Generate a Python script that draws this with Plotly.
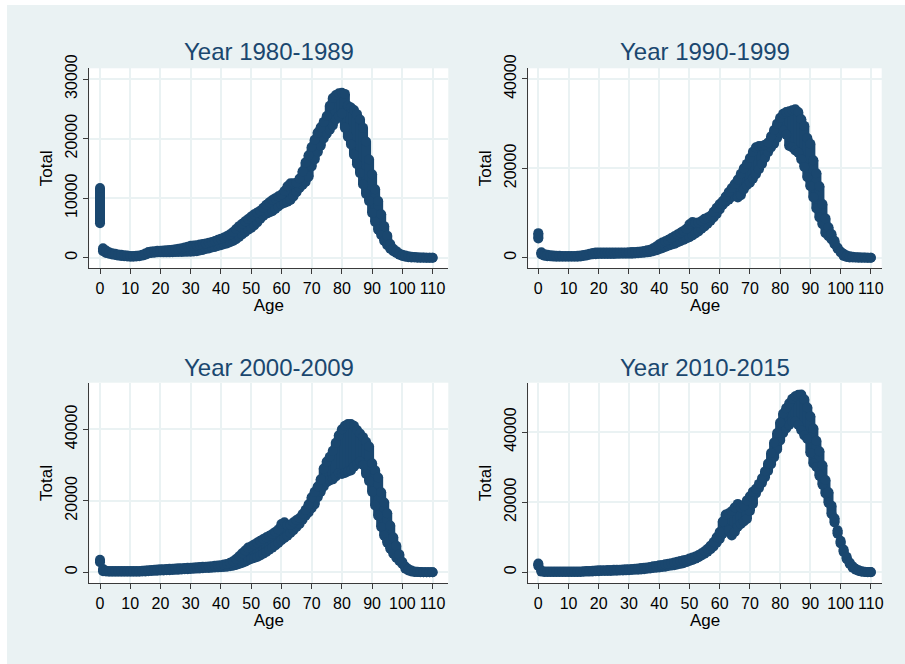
import plotly.graph_objects as go

# ---------------- data ----------------
AGES = list(range(0, 111))

TITLES = ["Year 1980-1989", "Year 1990-1999", "Year 2000-2009", "Year 2010-2015"]
X_TICKS = list(range(0, 111, 10))
Y_TICKS_1 = [0, 10000, 20000, 30000]
Y_TICKS_2 = [0, 20000, 40000]
Y_TICKS_3 = [0, 20000, 40000]
Y_TICKS_4 = [0, 20000, 40000]

P1_LOW = [5800, 1100, 800, 650, 550, 450, 350, 300, 250, 200,
          170, 170, 200, 250, 350, 500, 700, 800, 850, 900,
          900, 900, 900, 900, 920, 940, 950, 960, 980, 990,
          1000, 1050, 1100, 1200, 1300, 1450, 1550, 1700, 1800, 1950,
          2100, 2250, 2400, 2580, 2800, 3100, 3500, 3900, 4300, 4700,
          5000, 5400, 5900, 6500, 7000, 7400, 7600, 7800, 8200, 8600,
          9000, 9200, 9400, 9700, 10300, 11000, 11700, 12200, 12700, 13600,
          15300, 16500, 17700, 18800, 20000, 20800, 21500, 22200, 23200, 23800,
          24200, 21800, 20300, 19000, 17300, 15700, 14200, 12300, 10700, 9500,
          7500, 6000, 4700, 3800, 2800, 2100, 1500, 1100, 800, 500,
          300, 150, 80, 40, 20, 10, 5, 0, 0, 0, 0]
P1_HIGH = [11700, 1600, 1200, 900, 750, 650, 550, 500, 400, 350,
           300, 300, 320, 380, 500, 700, 950, 1050, 1100, 1150,
           1150, 1200, 1250, 1300, 1350, 1400, 1500, 1600, 1700, 1850,
           2000, 2050, 2100, 2200, 2300, 2400, 2500, 2650, 2800, 3000,
           3200, 3400, 3650, 3920, 4300, 4800, 5300, 5700, 6100, 6500,
           6900, 7300, 7600, 7900, 8400, 8900, 9300, 9700, 10000, 10300,
           10600, 11200, 12000, 12500, 12500, 12600, 13300, 14500, 16000, 17200,
           18600, 19800, 21000, 21900, 22800, 23800, 25500, 26800, 27300, 27600,
           27700, 27500, 25500, 25200, 24800, 24100, 23200, 21800, 19500, 16500,
           14000, 11500, 9500, 7300, 5300, 3700, 2300, 1500, 1100, 700,
           500, 350, 250, 150, 100, 60, 40, 20, 10, 5, 5]

P2_LOW = [4300, 700, 450, 350, 300, 250, 220, 200, 200, 200,
          200, 200, 200, 230, 280, 380, 520, 650, 750, 800,
          820, 830, 840, 850, 850, 850, 860, 870, 880, 890,
          900, 900, 950, 1000, 1050, 1100, 1200, 1300, 1450, 1650,
          1900, 2100, 2400, 2700, 2900, 3100, 3400, 3700, 4000, 4300,
          4600, 5000, 5400, 5900, 6500, 7000, 7600, 8300, 9000, 9800,
          10800, 11800, 12500, 13000, 13600, 13800, 13500, 14000, 15300, 16200,
          16800, 17700, 18700, 19800, 21000, 22300, 23600, 24700, 25500, 26800,
          28000, 28500, 27500, 25000, 24700, 24000, 23500, 22000, 20300, 18000,
          16000, 13500, 11000, 9000, 7500, 5500, 4800, 4100, 3000, 2000,
          1200, 400, 150, 50, 30, 20, 10, 5, 0, 0, 0]
P2_HIGH = [5500, 1200, 800, 650, 550, 500, 450, 420, 400, 400,
           400, 400, 400, 430, 480, 580, 720, 900, 1050, 1150,
           1150, 1150, 1150, 1150, 1150, 1150, 1150, 1150, 1150, 1150,
           1200, 1250, 1300, 1350, 1400, 1500, 1650, 1800, 2100, 2500,
           3000, 3400, 3700, 4000, 4400, 4800, 5200, 5600, 6000, 6500,
           7500, 8000, 7800, 7900, 8200, 8700, 9000, 9400, 10300, 11200,
           12000, 12700, 13700, 14700, 15600, 16500, 17500, 18800, 20000, 21000,
           22300, 23700, 24700, 25000, 25000, 25300, 25800, 27200, 28600, 30000,
           31300, 32200, 32600, 32800, 33000, 33200, 32600, 31000, 29500, 26800,
           25500, 21800, 18900, 16000, 12000, 8800, 6800, 5300, 3800, 2300,
           1400, 900, 500, 300, 200, 120, 80, 50, 30, 15, 10]

P3_LOW = [2800, 300, 200, 150, 150, 150, 150, 150, 150, 150,
          150, 150, 150, 170, 200, 250, 300, 350, 400, 450,
          480, 520, 560, 600, 640, 680, 720, 780, 840, 880,
          930, 980, 1030, 1080, 1130, 1180, 1230, 1280, 1330, 1380,
          1430, 1500, 1580, 1700, 1850, 2050, 2300, 2600, 2950, 3350,
          3700, 4000, 4300, 4700, 5200, 5700, 6300, 6900, 7500, 8200,
          9000, 9600, 10200, 11000, 11800, 12700, 13500, 14700, 15800, 16700,
          17900, 19000, 21000, 22500, 24000, 25200, 25700, 26000, 26800, 27800,
          27500, 27800, 28200, 28500, 29500, 30300, 31000, 30000, 27500, 25500,
          22500, 18700, 15800, 12700, 10200, 8300, 6600, 5200, 4100, 3200,
          2300, 1000, 500, 250, 100, 50, 20, 0, 0, 0, 0]
P3_HIGH = [3500, 900, 400, 350, 350, 350, 350, 350, 350, 350,
           350, 350, 350, 380, 420, 480, 550, 620, 700, 780,
           840, 880, 920, 960, 1000, 1050, 1100, 1150, 1200, 1250,
           1300, 1350, 1400, 1460, 1520, 1580, 1650, 1720, 1800, 1900,
           2000, 2150, 2350, 2650, 3100, 3700, 4500, 5300, 6100, 6900,
           7300, 7800, 8300, 8800, 9300, 9800, 10200, 10700, 11300, 12000,
           13500, 14000, 13200, 13300, 14000, 14600, 15200, 16300, 17500, 19000,
           21000, 22500, 24000, 26000, 29000, 31000, 32300, 34000, 36200, 38300,
           40000, 41000, 41500, 41500, 41000, 39800, 38800, 37800, 36500, 35200,
           30500, 28500, 26500, 22400, 19500, 16500, 13100, 9800, 7400, 5000,
           2900, 1600, 900, 500, 250, 150, 80, 40, 20, 10, 10]

P4_LOW = [1800, 200, 100, 80, 80, 80, 80, 80, 80, 80,
          80, 80, 80, 100, 100, 150, 200, 200, 250, 300,
          300, 350, 350, 400, 400, 450, 450, 500, 500, 550,
          600, 650, 700, 750, 800, 900, 1000, 1100, 1200, 1300,
          1400, 1500, 1600, 1800, 1900, 2000, 2200, 2400, 2600, 2900,
          3200, 3500, 3900, 4300, 4800, 5300, 5900, 6600, 7400, 8400,
          9500, 11000, 12500, 12000, 10500, 11500, 13000, 13800, 14500, 15200,
          17500, 19500, 22500, 24000, 25500, 27100, 28900, 30800, 32800, 35000,
          37600, 39700, 41000, 42000, 43000, 43000, 42000, 40500, 39000, 38000,
          34000, 31000, 30000, 27500, 25000, 22500, 19800, 16600, 14200, 11000,
          8200, 5800, 3800, 2400, 1300, 700, 350, 150, 60, 20, 0]
P4_HIGH = [2500, 500, 250, 200, 200, 200, 200, 200, 200, 200,
           200, 200, 200, 200, 250, 300, 350, 400, 450, 500,
           550, 600, 600, 650, 650, 700, 700, 750, 800, 850,
           900, 950, 1000, 1100, 1200, 1300, 1400, 1500, 1700, 1800,
           2000, 2100, 2300, 2400, 2600, 2800, 3000, 3200, 3400, 3600,
           3900, 4200, 4500, 4900, 5400, 6000, 6700, 7600, 8600, 10000,
           11500, 14500, 16500, 16800, 17500, 18500, 19500, 18500, 19000, 20500,
           21700, 23000, 23800, 25200, 26800, 28800, 31000, 34000, 37000, 39700,
           42700, 45300, 46800, 48200, 49500, 50200, 50600, 50700, 49300, 47000,
           44500, 41000, 37500, 34500, 30500, 26300, 22800, 19000, 15400, 12000,
           9000, 6500, 4400, 2800, 1700, 1000, 550, 300, 150, 80, 50]

LOWS = [P1_LOW, P2_LOW, P3_LOW, P4_LOW]
HIGHS = [P1_HIGH, P2_HIGH, P3_HIGH, P4_HIGH]
YTICKS = [Y_TICKS_1, Y_TICKS_2, Y_TICKS_3, Y_TICKS_4]

# ---------------- style / layout ----------------
W, H = 905, 664
NAVY = "#1A476F"
BG = "#EAF2F3"
AXIS = "#3a3a3a"
FONT = "Liberation Sans, Arial, sans-serif"

# plot regions in pixels: (left, right, top, bottom)
BOXES = [(89.3, 448.3, 68.3, 268.3),
         (528.3, 881.7, 68.3, 268.3),
         (89.3, 448.3, 382.7, 583.3),
         (528.3, 881.7, 382.7, 583.3)]
XRANGES = [[-3.54, 115.2], [-3.31, 113.6], [-3.54, 115.2], [-3.31, 113.6]]
YRANGES = [[-1780, 31800], [-2370, 42390], [-3080, 53030], [-3140, 54060]]
TITLE_Y = [52, 367]

fig = go.Figure()
layout = dict(
    width=W, height=H,
    margin=dict(l=0, r=0, t=0, b=0),
    paper_bgcolor=BG, plot_bgcolor="white",
    showlegend=False,
    font=dict(family=FONT, color="black"),
    annotations=[], shapes=[],
)

MS = 10
for i in range(4):
    sx = "" if i == 0 else str(i + 1)
    xa, ya = "x" + sx, "y" + sx
    lo, hi = LOWS[i], HIGHS[i]
    seg_x, seg_y = [], []
    for a, l, h in zip(AGES, lo, hi):
        seg_x += [a, a, None]
        seg_y += [l, h, None]
    fig.add_trace(go.Scatter(x=seg_x, y=seg_y, mode="lines", xaxis=xa, yaxis=ya,
                             line=dict(color=NAVY, width=MS), hoverinfo="skip"))
    fig.add_trace(go.Scatter(x=AGES + AGES, y=lo + hi, mode="markers", xaxis=xa, yaxis=ya,
                             marker=dict(color=NAVY, size=MS, line=dict(width=0))))
    l, r, t, b = BOXES[i]
    layout["xaxis" + sx] = dict(
        domain=[l / W, r / W], range=XRANGES[i], anchor=ya,
        tickvals=X_TICKS, ticktext=[str(v) for v in X_TICKS],
        ticks="outside", ticklen=5, tickwidth=1, tickcolor=AXIS,
        showline=True, linecolor=AXIS, linewidth=1, mirror=False,
        showgrid=True, gridcolor=BG, gridwidth=1.5, zeroline=False,
        tickfont=dict(size=16, family=FONT, color="black"),
        title=dict(text="Age", font=dict(size=17, family=FONT, color="black"), standoff=2),
        automargin=False, fixedrange=True,
    )
    layout["yaxis" + sx] = dict(
        domain=[1 - b / H, 1 - t / H], range=YRANGES[i], anchor=xa,
        tickvals=YTICKS[i], ticktext=[str(v) for v in YTICKS[i]],
        ticks="outside", ticklen=5, tickwidth=1, tickcolor=AXIS,
        tickangle=-90,
        showline=True, linecolor=AXIS, linewidth=1, mirror=False,
        showgrid=True, gridcolor=BG, gridwidth=1.5, zeroline=False,
        tickfont=dict(size=16, family=FONT, color="black"),
        title=dict(text="Total", font=dict(size=17, family=FONT, color="black"), standoff=5),
        automargin=False, fixedrange=True,
    )
    layout["annotations"].append(dict(
        text=TITLES[i], x=(l + r) / 2 / W, y=1 - TITLE_Y[i // 2] / H,
        xref="paper", yref="paper", xanchor="center", yanchor="middle",
        showarrow=False, font=dict(size=24, family=FONT, color=NAVY)))

# thin white strip at top and left edges of the picture
layout["shapes"] = [
    dict(type="rect", xref="paper", yref="paper", x0=0, x1=7 / W, y0=0, y1=1,
         fillcolor="white", line=dict(width=0), layer="above"),
    dict(type="rect", xref="paper", yref="paper", x0=0, x1=1, y0=1 - 5 / H, y1=1,
         fillcolor="white", line=dict(width=0), layer="above"),
]

fig.update_layout(**layout)
fig.write_html("out.html", config={"displayModeBar": False})
